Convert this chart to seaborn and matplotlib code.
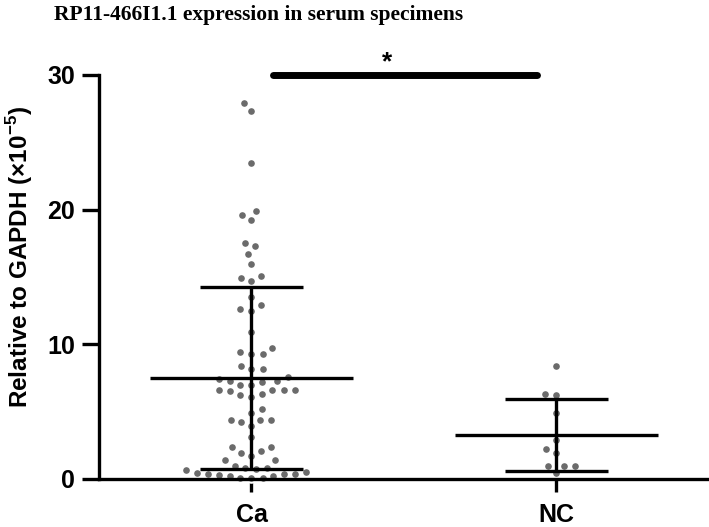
import matplotlib
matplotlib.use("Agg")
import matplotlib.pyplot as plt
import seaborn as sns
import pandas as pd

# %% Datos
groups = ["Ca", "NC"]
ca_values = [27.9, 27.3, 23.5, 19.9, 19.6, 19.2, 17.5, 17.3, 16.7, 15.95, 15.1,
             14.9, 14.7, 13.5, 12.9, 12.6, 12.5, 10.9, 9.75, 9.4, 9.3, 9.3, 8.4,
             8.15, 8.15, 7.6, 7.4, 7.3, 7.3, 7.2, 7.0, 7.0, 6.6, 6.6, 6.6, 6.6,
             6.5, 6.3, 6.2, 6.1, 5.2, 4.9, 4.4, 4.4, 4.4, 4.2, 3.9, 3.1, 2.4, 2.4,
             2.1, 1.9, 1.7, 1.4, 1.4, 1.0, 0.85, 0.8, 0.75, 0.7, 0.5, 0.45, 0.4,
             0.35, 0.35, 0.3, 0.25, 0.2, 0.05, 0.05, 0.05]
nc_values = [8.4, 6.25, 6.3, 4.9, 2.9, 2.2, 1.9, 1.0, 0.95, 1.0, 0.45]
means = [7.48, 3.26]
sds = [6.75, 2.7]
y_ticks = [0, 10, 20, 30]

df = pd.DataFrame({
    "group": ["Ca"] * len(ca_values) + ["NC"] * len(nc_values),
    "value": ca_values + nc_values,
})

# %% Figura
sns.set_style("white")
plt.rcParams["font.family"] = ["Liberation Sans", "DejaVu Sans"]
plt.rcParams["text.color"] = "black"
plt.rcParams["axes.labelcolor"] = "black"
plt.rcParams["xtick.color"] = "black"
plt.rcParams["ytick.color"] = "black"
plt.rcParams["mathtext.fontset"] = "custom"
plt.rcParams["mathtext.bf"] = "Liberation Sans:bold"
plt.rcParams["mathtext.rm"] = "Liberation Sans:bold"

fig = plt.figure(figsize=(7.09, 5.27), dpi=100)
ax = fig.add_axes([0.1396, 0.0911, 0.8604, 0.7666])

sns.swarmplot(data=df, x="group", y="value", order=groups, ax=ax,
              color="#6b6b6b", size=6.2, linewidth=1.4, edgecolor="white")
for coll in ax.collections:
    coll.set_clip_on(False)

# media y desviación estándar
lw = 2.4
for i, (m, s) in enumerate(zip(means, sds)):
    ax.hlines(m, i - 0.333, i + 0.333, color="black", lw=lw, zorder=4)
    ax.hlines([m - s, m + s], i - 0.17, i + 0.17, color="black", lw=lw, zorder=4)
    ax.vlines(i, m - s, m + s, color="black", lw=lw, zorder=4)

# barra de significancia
ax.plot([0.07, 0.935], [30, 30], color="black", lw=5, solid_capstyle="round",
        clip_on=False, zorder=5)
ax.text(0.445, 30.95, "*", ha="center", va="center", fontsize=19,
        fontweight="bold", clip_on=False)

ax.set_xlim(-0.5, 1.5)
ax.set_ylim(0, 30)
ax.set_yticks(y_ticks)
ax.set_xticks(range(len(groups)))
ax.set_xticklabels(groups)
sns.despine(ax=ax)
for side in ["left", "bottom"]:
    ax.spines[side].set_linewidth(2.4)
    ax.spines[side].set_color("black")
    ax.spines[side].set_zorder(3)
ax.tick_params(axis="both", direction="out", length=12, width=2.4, color="black",
               labelsize=18, pad=5, bottom=True, left=True)
ax.tick_params(axis="x", length=9, pad=8)
for lab in ax.get_xticklabels() + ax.get_yticklabels():
    lab.set_fontweight("bold")

ax.set_xlabel("")
ax.set_ylabel(r"Relative to GAPDH (×10$^{\mathbf{-5}}$)", fontsize=17.5,
              fontweight="bold")
ax.yaxis.set_label_coords(-0.105, 0.55)

fig.text(0.364, 0.972, "RP11-466I1.1 expression in serum specimens",
         ha="center", va="center", fontsize=15.5, fontweight="bold",
         color="black", family=["Liberation Serif", "DejaVu Serif"])

fig.savefig("out.png", dpi=100, facecolor="white")
